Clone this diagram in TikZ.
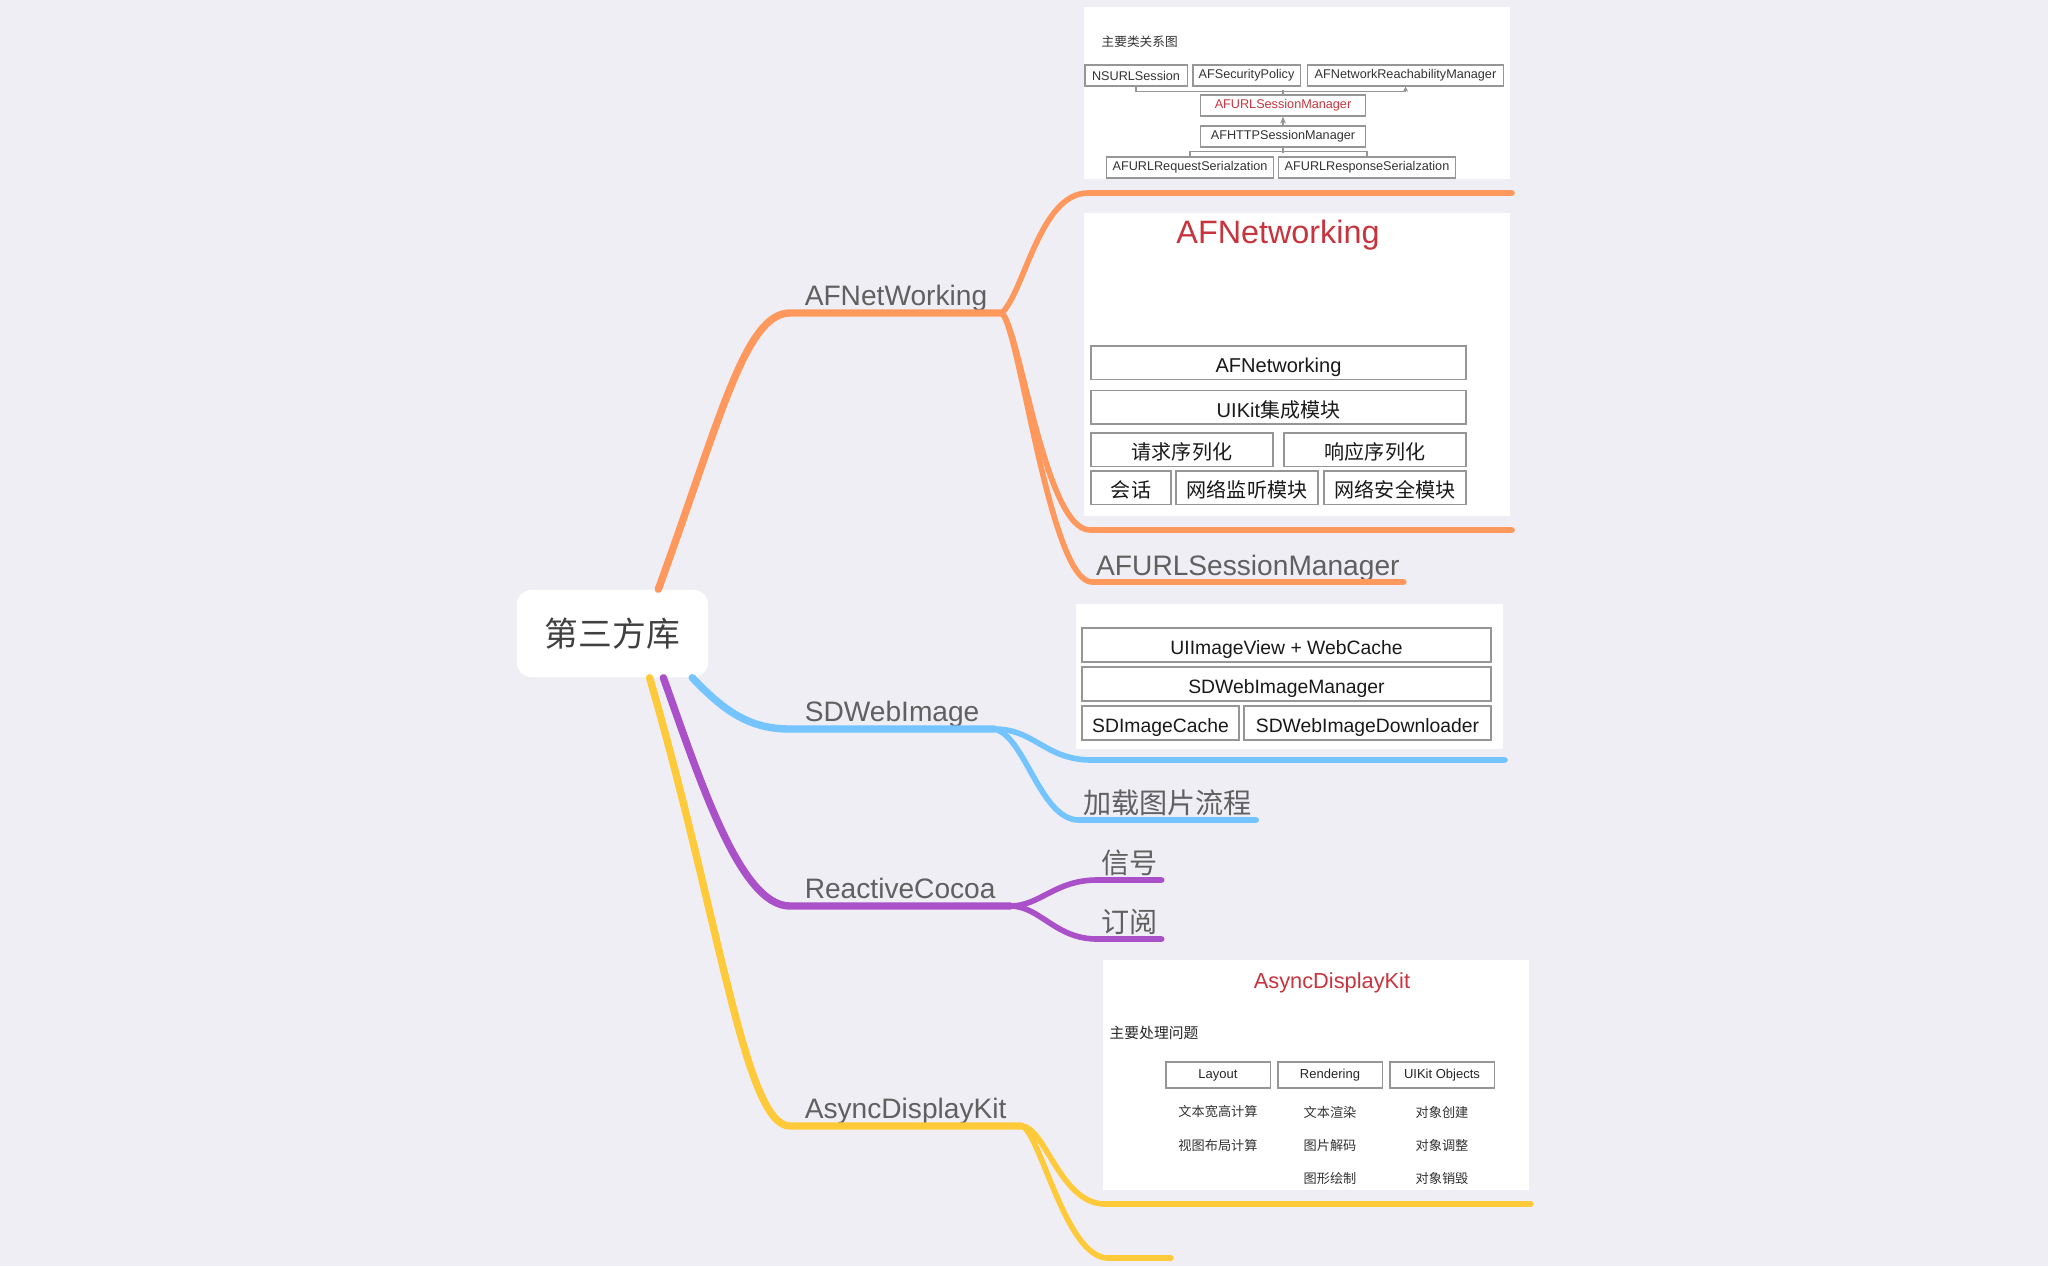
\documentclass[tikz,border=0pt]{standalone}
\usepackage{fontspec}
\setmainfont{Liberation Sans}
\newfontfamily\cjk{Noto Sans CJK SC}
\usepackage{tikz}
\usetikzlibrary{arrows.meta}
\usetikzlibrary{positioning}
\definecolor{bgcol}{RGB}{239,238,244}
\definecolor{afcol}{RGB}{255,152,92}
\definecolor{sdcol}{RGB}{115,196,255}
\definecolor{rccol}{RGB}{170,80,200}
\definecolor{adcol}{RGB}{255,202,58}
\definecolor{lblcol}{RGB}{96,96,96}
\definecolor{redcol}{RGB}{200,52,62}
\definecolor{edgecol}{RGB}{150,150,150}

\begin{document}
\begin{tikzpicture}[x=0.01cm,y=-0.01cm,
    mainline/.style={line width=2.1pt,line cap=round},
    subline/.style={line width=1.6pt,line cap=round},
    branch/.style={anchor=south west,inner xsep=4pt,inner ysep=0pt,text depth=1.9pt,text=lblcol,font=\fontsize{8}{8}\selectfont},
    leaf/.style={anchor=south west,inner xsep=1pt,inner ysep=0pt,text depth=1.6pt,text=lblcol,font=\fontsize{8}{8}\selectfont},
    shot/.style={fill=white,anchor=south west,inner sep=0pt},
    abox/.style={draw=edgecol,line width=0.3pt,inner sep=0pt,minimum height=0.21cm,text=black!80,font=\fontsize{3.6}{4}\selectfont},
    bbox/.style={draw=edgecol,line width=0.4pt,inner sep=0pt,minimum height=0.33cm,text height=0.75em,text depth=0.2em,text=black!90,font=\fontsize{5.7}{6}\selectfont},
    cbox/.style={draw=edgecol,line width=0.4pt,inner sep=0pt,minimum height=0.34cm,text height=0.75em,text depth=0.2em,text=black!90,font=\fontsize{5.5}{6}\selectfont},
    dbox/.style={draw=edgecol,line width=0.3pt,inner sep=0pt,minimum width=1.04cm,minimum height=0.26cm,text=black!85,font=\fontsize{3.7}{4}\selectfont},
    ditem/.style={text=black!80,inner sep=0pt,font=\cjk\fontsize{3.75}{4}\selectfont},
    tline/.style={draw=edgecol,line width=0.3pt}]
      \fill[bgcol] (0,0) rectangle (2048,1266);
      \useasboundingbox (0,0) rectangle (2048,1266);

      \node[fill=white,rounded corners=4pt,minimum width=1.91cm,minimum height=0.87cm,text=black!75,font=\cjk\fontsize{9.6}{10}\selectfont] (root) at (612.5,633.5) {第三方库};

      \node[branch] (afn) at (790,313) {AFNetWorking};
      \node[branch] (sdw) at (790,729) {SDWebImage};
      \node[branch] (rac) at (790,906) {ReactiveCocoa};
      \node[branch] (adk) at (790,1126) {AsyncDisplayKit};

      \draw[mainline,afcol] (root.44) .. controls (720,420) and (745,313) .. (afn.south west) -- (afn.south east);
      \draw[mainline,sdcol] (root.-29) .. controls (725,712) and (750,729) .. (sdw.south west) -- (sdw.south east);
      \draw[mainline,rccol] (root.-41) .. controls (700,780) and (740,906) .. (rac.south west) -- (rac.south east);
      \draw[mainline,adcol] (root.-50) .. controls (720,920) and (745,1126) .. (adk.south west) -- (adk.south east);

      \node[shot,minimum width=4.26cm,minimum height=1.72cm] (clsimg) at (1083,180) {};
      \node[shot,minimum width=4.26cm,minimum height=3.03cm] (afnimg) at (1083,517) {};
      \node[shot,minimum width=4.27cm,minimum height=1.45cm] (sdimg) at (1075,750) {};
      \node[shot,minimum width=4.26cm,minimum height=2.30cm] (adkimg) at (1102,1191) {};

      \coordinate (cls-a) at (1088,193);
      \coordinate (cls-b) at (1512,193);
      \coordinate (afnimg-a) at (1090,530);
      \coordinate (afnimg-b) at (1512,530);
      \node[leaf] (urlmgr) at (1092,582) {AFURLSessionManager};
      \draw[subline,afcol] (afn.south east) .. controls (1025,290) and (1040,193) .. (cls-a) -- (cls-b);
      \draw[subline,afcol] (afn.south east) .. controls (1020,330) and (1045,530) .. (afnimg-a) -- (afnimg-b);
      \draw[subline,afcol] (afn.south east) .. controls (1020,330) and (1050,582) .. (urlmgr.south west) -- (urlmgr.south east);

      \coordinate (sdimg-a) at (1092,760);
      \coordinate (sdimg-b) at (1505,760);
      \node[leaf] (flow) at (1079,820) {\cjk 加载图片流程};
      \draw[subline,sdcol] (sdw.south east) .. controls (1035,729) and (1045,760) .. (sdimg-a) -- (sdimg-b);
      \draw[subline,sdcol] (sdw.south east) .. controls (1025,735) and (1040,820) .. (flow.south west) -- (flow.south east);

      \node[leaf] (signal) at (1097,880) {\cjk 信号};
      \node[leaf] (subscribe) at (1097,939) {\cjk 订阅};
      \draw[subline,rccol] (rac.south east) .. controls (1040,906) and (1055,880) .. (signal.south west) -- (signal.south east);
      \draw[subline,rccol] (rac.south east) .. controls (1040,906) and (1055,939) .. (subscribe.south west) -- (subscribe.south east);

      \coordinate (adkimg-a) at (1105,1204);
      \coordinate (adkimg-b) at (1531,1204);
      \coordinate (adkbot-a) at (1108,1258);
      \coordinate (adkbot-b) at (1171,1258);
      \draw[subline,adcol] (adk.south east) .. controls (1045,1126) and (1060,1204) .. (adkimg-a) -- (adkimg-b);
      \draw[subline,adcol] (adk.south east) .. controls (1040,1130) and (1065,1258) .. (adkbot-a) -- (adkbot-b);

      \node[anchor=west,text=black!80,inner sep=0pt,font=\cjk\fontsize{3.6}{4}\selectfont] (clstitle) at (1101,42) {主要类关系图};
      \node[abox,minimum width=1.02cm] (nsurl) at (1136,75.5) {NSURLSession};
      \node[abox,minimum width=1.07cm] (secpol) at (1246.5,75.5) {AFSecurityPolicy};
      \node[abox,minimum width=1.95cm] (reach) at (1405.5,75.5) {AFNetworkReachabilityManager};
      \node[abox,minimum width=1.64cm,text=redcol] (urlsess) at (1283,105.5) {AFURLSessionManager};
      \node[abox,minimum width=1.64cm] (httpsess) at (1283,136.5) {AFHTTPSessionManager};
      \node[abox,minimum width=1.66cm] (reqser) at (1190,167.5) {AFURLRequestSerialzation};
      \node[abox,minimum width=1.76cm] (resser) at (1367,167.5) {AFURLResponseSerialzation};
      \draw[tline,-{Stealth[length=1.5pt,width=1.5pt]}] (nsurl.south) -- ++(0,5) -| (reach.south);
      \draw[tline] (urlsess.north) -- ++(0,-4);
      \draw[tline,-{Stealth[length=2pt,width=1.6pt]}] (httpsess.north) -- (urlsess.south);
      \draw[tline] (httpsess.south) -- ++(0,5);
      \draw[tline] (reqser.north) -- ++(0,-5) -| (resser.north);

      \node[anchor=base,text=redcol,font=\fontsize{9.2}{10}\selectfont] (afntitle) at (1278,243) {AFNetworking};
      \node[bbox,minimum width=3.75cm] (afnlayer) at (1278.5,362.5) {AFNetworking};
      \node[bbox,minimum width=3.75cm,below=0.1cm of afnlayer] (uikit) {UIKit{\cjk 集成模块}};
      \node[bbox,minimum width=1.82cm] (reqlayer) at (1182,449.5) {\cjk 请求序列化};
      \node[bbox,minimum width=1.82cm] (reslayer) at (1375,449.5) {\cjk 响应序列化};
      \node[bbox,minimum width=0.80cm] (session) at (1131,487.5) {\cjk 会话};
      \node[bbox,minimum width=1.42cm] (monitor) at (1247,487.5) {\cjk 网络监听模块};
      \node[bbox,minimum width=1.42cm] (security) at (1395,487.5) {\cjk 网络安全模块};

      \node[cbox,minimum width=4.09cm] (webcache) at (1286.5,645) {UIImageView + WebCache};
      \node[cbox,minimum width=4.09cm] (sdmgr) at (1286.5,684) {SDWebImageManager};
      \node[cbox,minimum width=1.57cm] (sdcache) at (1160.5,723) {SDImageCache};
      \node[cbox,minimum width=2.47cm] (sddown) at (1367.5,723) {SDWebImageDownloader};

      \node[anchor=base,text=redcol,font=\fontsize{6.2}{7}\selectfont] (adktitle) at (1332,988) {AsyncDisplayKit};
      \node[anchor=west,text=black!85,inner sep=0pt,font=\cjk\fontsize{4.2}{5}\selectfont] (adkq) at (1109,1033) {主要处理问题};
      \node[dbox] (layout) at (1218,1075) {Layout};
      \node[dbox] (render) at (1330,1075) {Rendering};
      \node[dbox] (uiobj) at (1442,1075) {UIKit Objects};
      \node[ditem] (lay1) at (1218,1112) {文本宽高计算};
      \node[ditem] (lay2) at (1218,1145) {视图布局计算};
      \node[ditem] (ren1) at (1330,1112) {文本渲染};
      \node[ditem] (ren2) at (1330,1145) {图片解码};
      \node[ditem] (ren3) at (1330,1178) {图形绘制};
      \node[ditem] (obj1) at (1442,1112) {对象创建};
      \node[ditem] (obj2) at (1442,1145) {对象调整};
      \node[ditem] (obj3) at (1442,1178) {对象销毁};
    \end{tikzpicture}
\end{document}
